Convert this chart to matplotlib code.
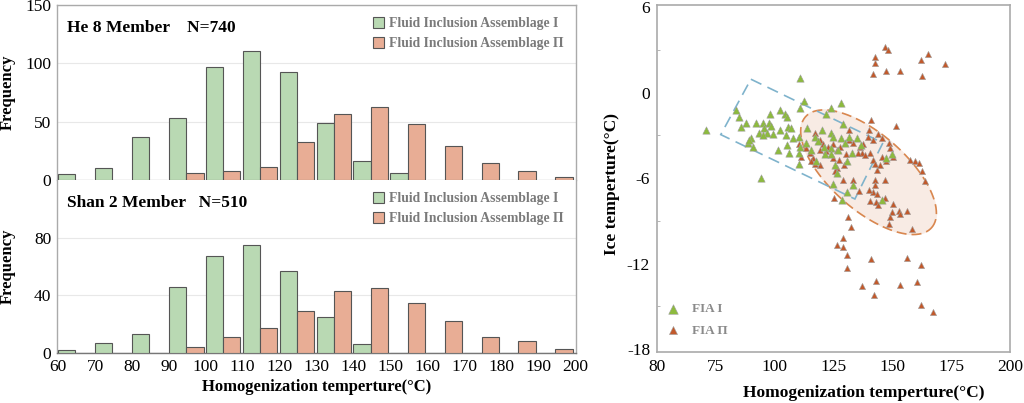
import matplotlib
matplotlib.use("Agg")
import matplotlib.pyplot as plt
import numpy as np
from matplotlib.patches import Polygon

plt.rcParams['font.family'] = ['Liberation Serif', 'DejaVu Serif']

# ---------------- data ----------------
bins = [60, 70, 80, 90, 100, 110, 120, 130, 140, 150, 160, 170, 180, 190]
he8_fia1 = [5, 10, 37, 53, 97, 111, 93, 49, 16, 6, 0, 0, 0, 0]
he8_fia2 = [0, 0, 0, 6, 8, 11, 33, 57, 63, 48, 29, 15, 8, 3]
shan2_fia1 = [2, 7, 13, 46, 67, 75, 57, 25, 6, 0, 0, 0, 0, 0]
shan2_fia2 = [0, 0, 0, 4, 11, 17, 29, 43, 45, 35, 22, 11, 8, 3]
hist_xticks = [60, 70, 80, 90, 100, 110, 120, 130, 140, 150, 160, 170, 180, 190, 200]

fia1_th = [71.0, 110.6, 112.3, 110.6, 128.4, 124.1, 122.0, 83.5, 84.9, 85.7, 87.8, 92.1, 95.2,
           98.1, 97.8, 98.5, 102.1, 104.2, 105.3, 102.1, 105.7, 107.1, 95.3, 93.2, 96.9, 94.9,
           89.9, 88.5, 90.6, 104.9, 107.8, 110.3, 105.3, 101.3, 106.3, 110.3, 110.6, 110.2, 94.2,
           113.7, 117.0, 120.3, 123.9, 124.9, 113.5, 117.7, 121.3, 124.1, 123.9, 129.1, 128.4,
           129.8, 131.6, 134.8, 130.6, 133.0, 124.9, 125.6, 130.6, 133.4, 128.7, 145.5, 149.8,
           118.5, 126.5, 136.5, 127.0, 115.5, 121.0, 147.5, 89.0, 99.5]
fia1_ti = [-2.6, 1.0, -0.6, -1.1, -0.7, -1.1, -1.5, -1.2, -1.7, -2.4, -2.1, -2.1, -2.1,
           -1.5, -2.1, -2.3, -1.2, -1.5, -1.7, -2.6, -2.4, -2.5, -2.5, -2.8, -2.8, -3.0,
           -3.2, -3.5, -3.8, -3.0, -3.2, -3.1, -3.7, -4.0, -4.2, -4.2, -3.8, -5.0, -6.0,
           -2.5, -3.1, -2.6, -2.8, -3.1, -3.5, -4.8, -4.3, -3.9, -4.3, -2.2, -3.2,
           -3.5, -3.1, -3.2, -4.8, -4.2, -6.4, -5.1, -7.0, -6.5, -7.5, -7.5, -4.3,
           -3.4, -5.6, -3.7, -4.0, -4.0, -3.8, -4.6, -3.3, -2.9]

fia2_th = [147.1, 148.1, 142.7, 142.7, 141.7, 147.2, 153.4, 162.2, 165.2, 172.6, 162.6,
           151.7, 140.8, 140.3, 143.8, 145.5, 148.4, 149.1, 150.5, 131.7, 137.7, 139.8, 142.0,
           136.3, 137.0, 138.4, 140.5, 142.0, 142.7, 143.4, 145.5, 147.2, 144.8, 117.0, 119.1,
           120.6, 122.7, 124.9, 126.3, 122.0, 127.7, 130.3, 133.4, 131.7, 135.5, 127.4, 124.9,
           119.1, 116.3, 115.6, 119.1, 126.3, 125.6, 129.4, 133.4, 129.1, 136.0, 142.7, 142.7,
           142.0, 143.4, 140.5, 143.1, 144.1, 146.9, 146.9, 150.5, 149.8, 149.1, 148.8, 152.7,
           153.4, 156.2, 158.4, 157.7, 159.8, 161.3, 162.6, 164.1, 140.3, 110.3, 114.9, 113.5,
           111.3, 117.0, 125.1, 131.3, 132.3, 129.1, 126.6, 128.9, 130.6, 130.6, 140.8, 156.2,
           162.2, 137.3, 143.0, 153.4, 160.5, 142.3, 162.4, 167.1]
fia2_ti = [3.2, 3.0, 2.5, 2.1, 1.3, 1.5, 1.5, 2.3, 2.7, 2.0, 1.2,
           -2.3, -1.9, -2.6, -2.9, -3.2, -3.5, -3.9, -4.5, -2.6, -3.6, -3.1, -3.3,
           -3.8, -4.2, -4.4, -4.2, -4.7, -5.0, -5.4, -4.5, -4.8, -5.1, -2.8, -3.3,
           -3.6, -3.8, -3.6, -4.0, -4.1, -3.8, -4.3, -3.5, -3.3, -4.2, -4.7, -4.6,
           -4.0, -4.6, -4.8, -5.1, -5.3, -5.5, -5.1, -6.1, -6.1, -6.9, -6.1, -6.5,
           -7.0, -7.1, -7.6, -7.7, -7.9, -6.1, -7.4, -7.8, -8.4, -8.7, -9.2, -8.3,
           -8.5, -8.3, -9.6, -4.7, -4.8, -4.9, -5.5, -6.2, -6.8, -3.6, -4.2, -3.9,
           -4.5, -5.0, -7.4, -8.7, -9.4, -10.2, -10.7, -10.8, -11.4, -12.3, -11.7, -11.6,
           -12.1, -13.6, -13.2, -13.5, -13.3, -14.2, -14.9, -15.4]

scatter_xticks = [50, 75, 100, 125, 150, 175, 200]
scatter_xticklabels = ["80", "75", "100", "125", "150", "175", "200"]
scatter_yticks = [-18, -12, -6, 0, 6]

# annotation shapes (data units)
box_th = [89.9, 146.0, 134.1, 77.1]
box_ti = [0.95, -3.52, -7.46, -2.94]
ell_center = (139.9, -5.58)
ell_major = (26.7, -3.91)
ell_minor = (10.9, 1.96)

# ---------------- style ----------------
GREEN = '#b9d9b3'
ORANGE = '#e8ad95'
EDGE = '#555555'
SPINE = '#aaaaaa'
GRID = '#e8e8e8'
MK_G = '#8dba3e'
MK_O = '#c2592b'

fig = plt.figure(figsize=(10.24, 4.03), dpi=100)
ax1 = fig.add_axes([0.0557, 0.5533, 0.5068, 0.4343])
ax2 = fig.add_axes([0.0557, 0.1241, 0.5068, 0.4292])
ax3 = fig.add_axes([0.6416, 0.1266, 0.3447, 0.8610])

w = 4.7
x = np.array(bins, dtype=float)

def hist_panel(ax, g, o, ymax, yticks, title):
    ax.bar(x, g, width=w, align='edge', color=GREEN, edgecolor=EDGE, linewidth=0.8,
           label='Fluid Inclusion Assemblage I', zorder=3)
    ax.bar(x + w, o, width=w, align='edge', color=ORANGE, edgecolor=EDGE, linewidth=0.8,
           label='Fluid Inclusion Assemblage Π', zorder=3)
    ax.set_xlim(59.7, 200.3)
    ax.set_ylim(0, ymax)
    ax.set_yticks(yticks)
    ax.yaxis.grid(True, color=GRID, linewidth=0.8, zorder=0)
    ax.set_axisbelow(True)
    for s in ax.spines.values():
        s.set_color(SPINE)
        s.set_linewidth(1.0)
    ax.spines['bottom'].set_color('#777777')
    ax.tick_params(axis='both', length=0, labelsize=12.5, pad=4)
    ax.set_ylabel('Frequency', fontsize=12, fontweight='bold')
    ax.yaxis.set_label_coords(-0.080, 0.5)
    ax.text(0.02, 0.87, title, transform=ax.transAxes, fontsize=12.5, fontweight='bold',
            va='center', ha='left')
    leg = ax.legend(loc='upper right', frameon=False, fontsize=9.8, handlelength=0.8,
                    handleheight=0.8, handletextpad=0.4, labelspacing=0.5,
                    borderaxespad=0.5, labelcolor='#7a7a7a')
    for t in leg.get_texts():
        t.set_fontweight('bold')

hist_panel(ax1, he8_fia1, he8_fia2, 150, [0, 50, 100, 150], 'He 8 Member    N=740')
hist_panel(ax2, shan2_fia1, shan2_fia2, 120, [0, 40, 80], 'Shan 2 Member   N=510')
ax1.set_xticks(hist_xticks)
ax1.tick_params(axis='x', labelbottom=False)
ax1.spines['bottom'].set_visible(False)
ax2.spines['top'].set_visible(False)
ax2.set_xticks(hist_xticks)
ax2.set_xlabel('Homogenization temperture(°C)', fontsize=12, fontweight='bold', labelpad=3)

# ---------------- scatter ----------------
t = np.linspace(0, 2 * np.pi, 200)
ex = ell_center[0] + ell_major[0] * np.cos(t) + ell_minor[0] * np.sin(t)
ey = ell_center[1] + ell_major[1] * np.cos(t) + ell_minor[1] * np.sin(t)
ax3.fill(ex, ey, color='#f8ebe4', zorder=1)
ax3.plot(ex, ey, color='#d9874f', linestyle=(0, (6, 3)), linewidth=1.2, zorder=2)
box = Polygon(list(zip(box_th, box_ti)), closed=True, fill=False, edgecolor='#7fb3cc',
              linestyle=(0, (7, 4)), linewidth=1.2, zorder=2)
ax3.add_patch(box)

ax3.scatter(fia1_th, fia1_ti, marker='^', s=28, color=MK_G, edgecolors='#a0a0a0',
            linewidths=0.4, zorder=4, label='FIA I')
ax3.scatter(fia2_th, fia2_ti, marker='^', s=20, color=MK_O, edgecolors='#a0a0a0',
            linewidths=0.4, zorder=3, label='FIA Π')

ax3.set_xlim(50, 200)
ax3.set_ylim(-18.2, 6.16)
ax3.set_xticks(scatter_xticks)
ax3.set_xticklabels(scatter_xticklabels)
ax3.set_yticks(scatter_yticks)
ax3.set_yticklabels([str(v) for v in scatter_yticks])
ax3.set_yticks([-15, -9, -3, 3], minor=True)
ax3.tick_params(axis='both', which='major', length=0, labelsize=12.5, pad=5)
ax3.tick_params(axis='y', which='minor', length=2, direction='in', color=SPINE)
for s in ax3.spines.values():
    s.set_color(SPINE)
    s.set_linewidth(1.2)
ax3.set_xlabel('Homogenization temperture(°C)', fontsize=12.5, fontweight='bold')
ax3.xaxis.set_label_coords(0.586, -0.094)
ax3.set_ylabel('Ice temperture(°C)', fontsize=12.5, fontweight='bold')
ax3.yaxis.set_label_coords(-0.105, 0.485)
leg3 = ax3.legend(loc='lower left', bbox_to_anchor=(-0.025, 0.01), frameon=False,
                  fontsize=9.5, handletextpad=0.4, labelspacing=0.7, labelcolor='#8a8a8a',
                  markerscale=1.3)
for tt in leg3.get_texts():
    tt.set_fontweight('bold')

fig.savefig('out.png', dpi=100)
